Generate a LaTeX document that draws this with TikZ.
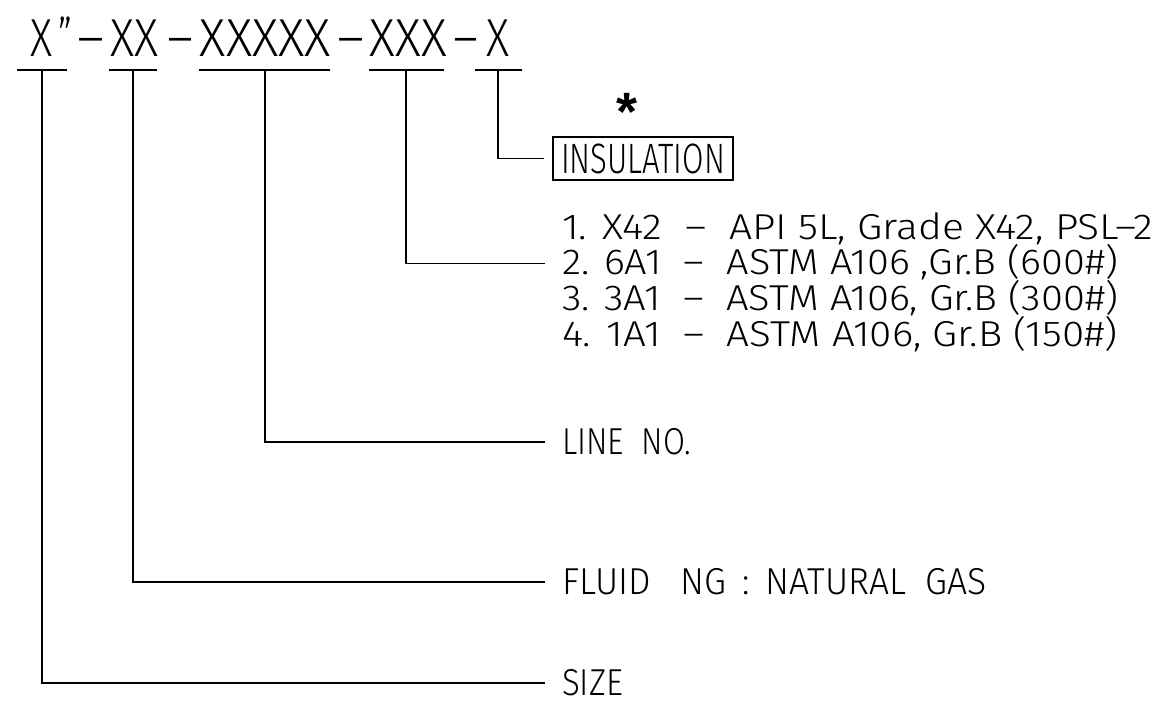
\documentclass[tikz,border=0pt]{standalone}
\usepackage{fontspec}
\usepackage{graphicx}
\setmainfont{Fira Sans Light}
\newfontfamily\astfont{Liberation Sans}
\newcommand\txtw[2]{\resizebox{#1}{\height}{#2}}
\begin{document}
\begin{tikzpicture}[x=1pt,y=-1pt,line width=1.6pt,
  hdr/.style={inner sep=0pt,anchor=base west,font=\fontsize{53.5}{54}\selectfont},
  lbl/.style={inner sep=0pt,anchor=base west,outer xsep=17pt,text height=24pt,text depth=0pt,font=\fontsize{37.5}{38}\selectfont},
  lst/.style={inner sep=0pt,anchor=base west,outer xsep=17pt,text height=23pt,text depth=0pt,font=\fontsize{36}{36}\selectfont},
  insbox/.style={draw,line width=1.4pt,inner sep=0pt,minimum width=180pt,minimum height=43pt,outer xsep=9pt,font=\fontsize{42.5}{43}\selectfont},
  conn/.style={line width=1.6pt}]
\useasboundingbox (0,0) rectangle (1160,703);
% header code
\node[hdr] (hx)   at (30,57)  {\txtw{22pt}{X}};
\node[hdr] (hq)   at (58,57)  {\txtw{14pt}{”}};
\node[hdr] (d1)   at (77,57)  {\txtw{27pt}{–}};
\node[hdr] (hfl)  at (110,57) {\txtw{48pt}{XX}};
\node[hdr] (d2)   at (167,57) {\txtw{26pt}{–}};
\node[hdr] (hln)  at (199,57) {\txtw{131pt}{XXXXX}};
\node[hdr] (d3)   at (337,57) {\txtw{27pt}{–}};
\node[hdr] (hmat) at (369,57) {\txtw{77pt}{XXX}};
\node[hdr] (d4)   at (453,57) {\txtw{25pt}{–}};
\node[hdr] (hins) at (486,57) {\txtw{23pt}{X}};
% underlines
\draw (17,70) -- (67,70);
\draw (109,70) -- (157,70);
\draw (199,70) -- (330,70);
\draw (369,70) -- (444,70);
\draw (475,70) -- (522,70);
\coordinate (u1) at (42,70);
\coordinate (u2) at (133,70);
\coordinate (u3) at (265,70);
\coordinate (u4) at (406,70);
\coordinate (u5) at (498,70);
% labels
\node[font=\astfont\bfseries\fontsize{54}{54}\selectfont,inner sep=0pt,anchor=base] (ast) at (627,131) {*};
\node[insbox] (ins) at (643,158.5) {\txtw{164pt}{INSULATION}};
\node[lst] (m1) at (545,240) {\txtw{591pt}{1. X42 \ –\ \ API 5L, Grade X42, PSL–2}};
\node[lst] (m2) at (545,275) {\txtw{556pt}{2. 6A1 \ –\ \ ASTM A106 ,Gr.B (600\#)}};
\node[lst] (m3) at (545,311) {\txtw{556pt}{3. 3A1 \ –\ \ ASTM A106, Gr.B (300\#)}};
\node[lst] (m4) at (545,347) {\txtw{556pt}{4. 1A1 \ –\ \ ASTM A106, Gr.B (150\#)}};
\node[lbl] (lineno) at (545,454) {\txtw{129pt}{LINE\ \ NO.}};
\node[lbl] (fluid) at (545,594) {\txtw{425pt}{FLUID\ \ \ NG\ \,:\ \,NATURAL\ \ GAS}};
\node[lbl] (size) at (545,695) {\txtw{61pt}{SIZE}};
% connectors
\draw[conn] (u1) |- (size.west);
\draw[conn] (u2) |- (fluid.west);
\draw[conn] (u3) |- (lineno.west);
\draw[conn] (u4) |- (m2.west);
\draw[conn] (u5) |- (ins.west);
\end{tikzpicture}
\end{document}
